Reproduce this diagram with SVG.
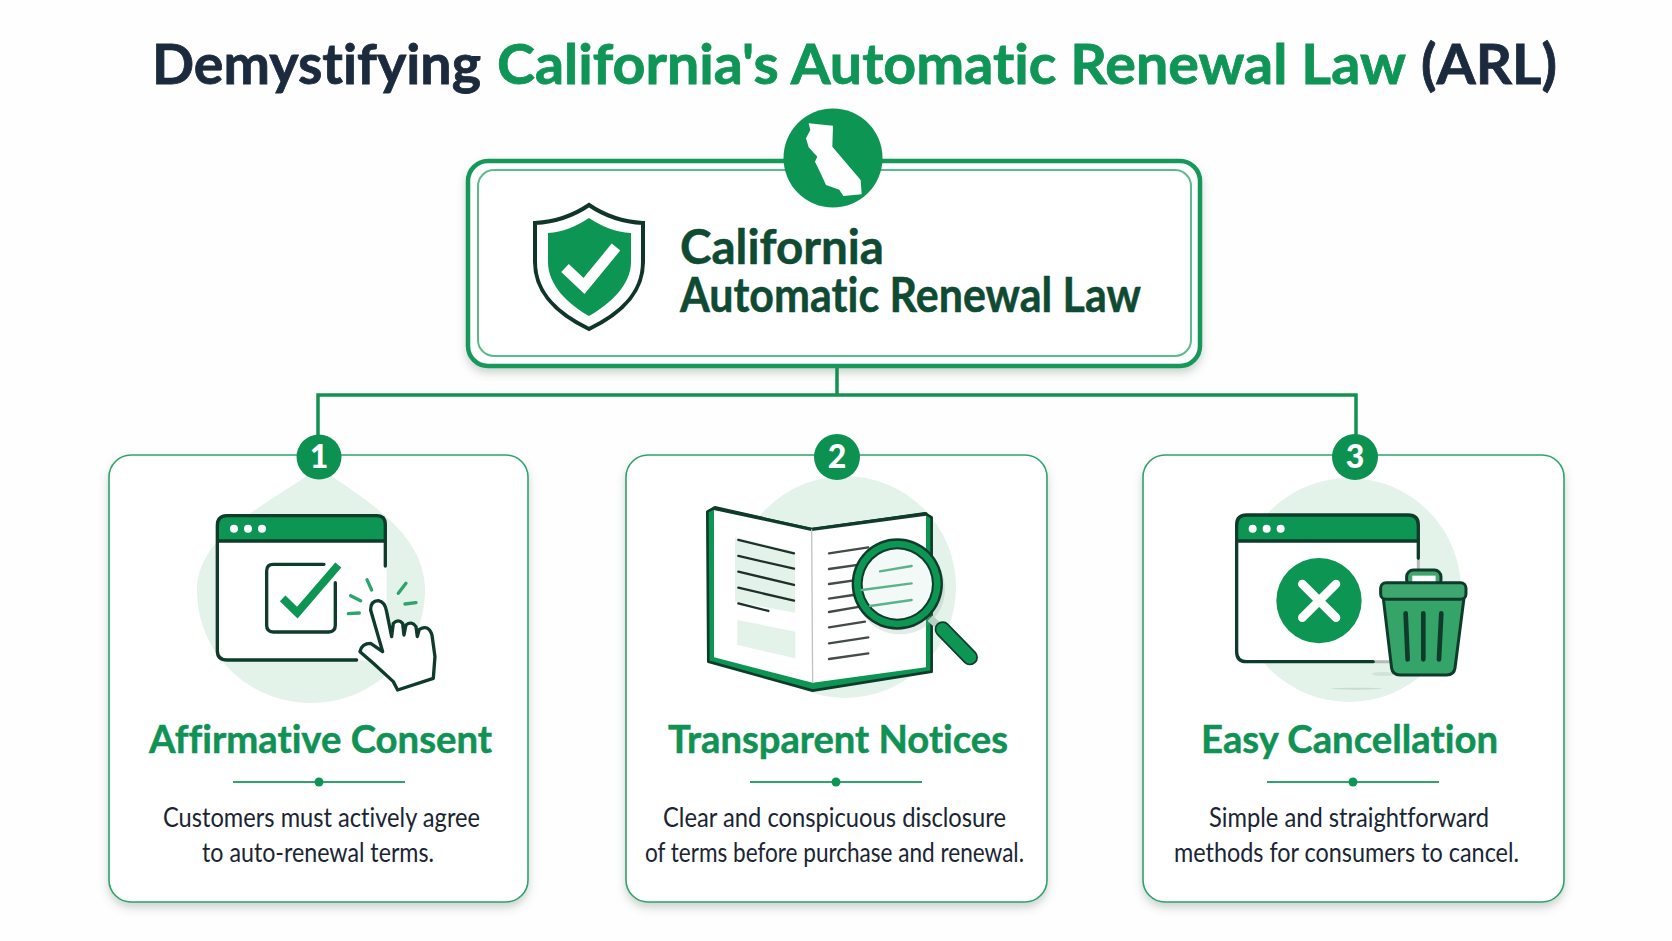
<svg xmlns="http://www.w3.org/2000/svg" width="1672" height="941" viewBox="0 0 1672 941">
<defs>
<style>
text{font-family:Lato,"Open Sans","Liberation Sans",sans-serif;font-variant-ligatures:none}
.title{font-size:56px;font-weight:700;fill:#1b2a3c;stroke:#1b2a3c;stroke-width:.8}
.g{fill:#0f9556;stroke:#0f9556}
.main{font-size:47px;font-weight:700;fill:#0f4a33;stroke:#0f4a33;stroke-width:.5}
.card{fill:#fff;stroke:#2fa36c;stroke-width:1.6;filter:url(#sh)}
.blob{fill:#e3f3ea}
.conn{fill:none;stroke:#13914f;stroke-width:3.5}
.badge{fill:#0d9151}
.num{font-size:32px;font-weight:900;fill:#fff;text-anchor:middle}
.head{font-size:39px;font-weight:700;fill:#0f9254;stroke:#0f9254;stroke-width:.5;text-anchor:middle}
.body{font-size:26px;fill:#1a2533;text-anchor:middle}
.div{stroke:#2fa36c;stroke-width:2}
.dk{fill:none;stroke:#0f3b2b;stroke-width:10;stroke-linecap:round;stroke-linejoin:round}
.gf{fill:#0c9553}
.sp{fill:none;stroke:#2fa36c;stroke-width:10;stroke-linecap:round}
.ln{fill:none;stroke:#1d3029;stroke-width:7;stroke-linecap:round}
.ln2{fill:none;stroke:#444b48;stroke-width:7;stroke-linecap:round}
.ln3{fill:none;stroke:#5cb38a;stroke-width:7;stroke-linecap:round}
</style>
<filter id="sh" x="-5%" y="-5%" width="110%" height="112%"><feDropShadow dx="0" dy="5" stdDeviation="4" flood-color="#4d6b5a" flood-opacity=".28"/></filter>
</defs>
<rect width="1672" height="941" fill="#fefefe"/>
<g id="title">
<text class="title" x="152" y="84" textLength="329" lengthAdjust="spacingAndGlyphs">Demystifying</text>
<text class="title g" x="497" y="84" textLength="909" lengthAdjust="spacingAndGlyphs">California's Automatic Renewal Law</text>
<text class="title" x="1421" y="84" textLength="136" lengthAdjust="spacingAndGlyphs">(ARL)</text>
</g>

<g id="connectors">
<path class="conn" d="M837 366V395M318 457V395H1356V457"/>
</g>

<g id="main-node">
<rect x="468" y="161" width="732" height="205" rx="20" fill="#fff" stroke="#13985a" stroke-width="4.5" filter="url(#sh)"/>
<rect x="478" y="170" width="713" height="186" rx="16" fill="none" stroke="#5cbb8c" stroke-width="2"/>
<circle cx="833" cy="158" r="49.5" class="gf"/>
<path transform="translate(760 100) scale(.3333)" fill="#fff" d="M146 70L219 77L217 140L302 240L305 283L250 288L238 269L198 255L183 222L165 185L172 170L146 142L138 115L151 90Z"/>
<path d="M589 205C570 218 553 222 535 223L535 262C535 295 560 315 589 329C618 315 643 295 643 262L643 223C625 222 608 218 589 205Z" fill="#fff" stroke="#10362a" stroke-width="4"/>
<path class="gf" d="M589 218C575 227 563 232 548 233L548 262C548 285 568 304 589 316C610 304 631 285 631 262L631 233C615 232 603 227 589 218Z"/>
<path d="M565 268L584 286L616 247" fill="none" stroke="#fff" stroke-width="11"/>
<text class="main" x="680" y="264" textLength="204" lengthAdjust="spacingAndGlyphs">California</text>
<text class="main" x="680" y="312" textLength="461" lengthAdjust="spacingAndGlyphs">Automatic Renewal Law</text>
</g>

<g id="card-1">
<rect class="card" x="109" y="455" width="419" height="447" rx="22"/>
<path class="blob" d="M319 466C345 490 425 525 425 590C425 653 374 703 311 703C248 703 197 653 197 590C197 530 280 500 319 466Z"/>
<circle class="badge" cx="319" cy="457" r="22.5"/>
<text class="num" x="319" y="468">1</text>
<g transform="translate(100 430) scale(.3333)">
<rect x="352" y="253" width="508" height="439" rx="30" fill="#fff"/>
<path class="gf" d="M352 333V283Q352 253 382 253H830Q860 253 860 283V333Z"/>
<path class="dk" d="M856 408V283Q856 257 830 257H382Q352 257 352 287V662Q352 690 382 690H770M352 333H856"/>
<g fill="#fff"><circle cx="402" cy="296" r="12"/><circle cx="444" cy="296" r="12"/><circle cx="486" cy="296" r="12"/></g>
<path class="dk" d="M672 403H520Q500 403 500 423V586Q500 606 520 606H686Q706 606 706 586V458"/>
<path d="M548 505L592 548L715 405" fill="none" stroke="#0c9553" stroke-width="24"/>
<path class="sp" d="M752 497L782 512M745 551L778 549M801 449L815 480M895 490L918 460M915 522L948 518"/>
<path class="dk" style="fill:#fff" d="M848 665L812 540Q812 512 835 512Q855 515 860 545L875 620L880 580Q895 565 908 580L912 615L918 585Q935 572 948 590L952 620L958 598Q985 582 996 615L1005 680L1000 745L893 780L880 755L820 700L780 665Q785 640 812 640Z"/>
</g>
<text class="head" x="320.5" y="753" textLength="343" lengthAdjust="spacingAndGlyphs">Affirmative Consent</text>
<path class="div" d="M233 782H405"/><circle class="gf" cx="319" cy="782" r="4.5"/>
<text class="body" x="321.5" y="827" textLength="317" lengthAdjust="spacingAndGlyphs">Customers must actively agree</text>
<text class="body" x="318" y="862" textLength="232" lengthAdjust="spacingAndGlyphs">to auto-renewal terms.</text>
</g>

<g id="card-2">
<rect class="card" x="626" y="455" width="421" height="447" rx="22"/>
<circle class="blob" cx="845" cy="587" r="111"/>
<circle class="badge" cx="837" cy="457" r="23"/>
<text class="num" x="837" y="468">2</text>
<g transform="translate(620 430) scale(.3333)">
<path class="gf" stroke="#0f3b2b" stroke-width="8" stroke-linejoin="round" d="M285 232L575 298L915 250L935 262V725L578 782L265 695L262 245Z"/>
<path fill="#fff" d="M282 235L575 298L918 252V712L578 758L282 682Z"/>
<path class="dk" d="M282 235L575 298L918 252"/>
<path stroke="#bdc4c0" stroke-width="4" d="M575 298L578 758"/>
<path class="blob" d="M345 322L525 365V548L345 515ZM352 570L526 605V685L352 645Z"/>
<path class="ln" d="M355 330L522 370M355 378L522 416M355 425L522 465M355 473L522 512M355 520L445 543"/>
<path class="ln2" d="M627 370L745 352M627 417L745 400M627 462L745 445M627 506L700 495M627 546L720 530M627 592L735 575M627 640L745 622M627 687L745 670"/>
<circle cx="840" cy="478" r="135" fill="#8a9a92" opacity=".22"/>
<path stroke="#b9cfc4" stroke-width="22" d="M930 565L960 592"/>
<path stroke="#0f3b2b" stroke-width="48" stroke-linecap="round" d="M968 598L1050 682"/>
<path stroke="#0c9553" stroke-width="38" stroke-linecap="round" d="M968 598L1050 682"/>
<circle cx="832" cy="462" r="137" fill="#0f3b2b"/>
<circle cx="832" cy="462" r="130" fill="#0c9553"/>
<circle cx="832" cy="462" r="110" fill="#0f3b2b"/>
<circle cx="832" cy="462" r="104" fill="#f3f9f6"/>
<path class="ln3" d="M780 424L875 408M725 480L875 460M750 528L875 510"/>
</g>
<text class="head" x="838" y="753" textLength="340" lengthAdjust="spacingAndGlyphs">Transparent Notices</text>
<path class="div" d="M750 782H922"/><circle class="gf" cx="836" cy="782" r="4.5"/>
<text class="body" x="834.5" y="827" textLength="343" lengthAdjust="spacingAndGlyphs">Clear and conspicuous disclosure</text>
<text class="body" x="834.5" y="862" textLength="379" lengthAdjust="spacingAndGlyphs">of terms before purchase and renewal.</text>
</g>

<g id="card-3">
<rect class="card" x="1143" y="455" width="421" height="447" rx="22"/>
<circle class="blob" cx="1349" cy="590" r="112"/>
<circle class="badge" cx="1355" cy="457" r="23"/>
<text class="num" x="1355" y="468">3</text>
<g transform="translate(1140 430) scale(.3333)">
<path fill="#fff" d="M290 285Q290 255 320 255H805Q835 255 835 285V665Q835 695 805 695H320Q290 695 290 665Z"/>
<path class="gf" d="M290 333V285Q290 255 320 255H805Q835 255 835 285V333Z"/>
<path class="dk" d="M835 385V285Q835 255 805 255H320Q290 255 290 285V665Q290 695 320 695H700M290 333H835"/>
<path stroke="#b5b9b7" stroke-width="9" d="M835 390V420M705 695H750"/>
<g fill="#fff"><circle cx="338" cy="296" r="12"/><circle cx="380" cy="296" r="12"/><circle cx="422" cy="296" r="12"/></g>
<circle class="gf" cx="537" cy="512" r="128"/>
<path stroke="#fff" stroke-width="26" stroke-linecap="round" d="M487 462L588 563M588 462L487 563"/>
<ellipse cx="650" cy="776" rx="75" ry="3" fill="#c9dbd1"/>
<ellipse cx="730" cy="732" rx="35" ry="6" fill="#d0e4d9"/>
<rect x="800" y="420" width="103" height="50" rx="20" fill="#3ea66f" stroke="#0f3b2b" stroke-width="9"/>
<rect x="817" y="437" width="70" height="22" fill="#fff"/>
<path fill="#35a469" stroke="#0f3b2b" stroke-width="9" stroke-linejoin="round" d="M730 505H972L945 715Q942 735 920 735H780Q758 735 755 715Z"/>
<rect x="722" y="458" width="256" height="50" rx="16" fill="#3ea66f" stroke="#0f3b2b" stroke-width="9"/>
<path fill="none" stroke="#0f3b2b" stroke-width="14" stroke-linecap="round" d="M797 550L803 688M850 550V688M904 550L897 688"/>
</g>
<text class="head" x="1349.5" y="753" textLength="297" lengthAdjust="spacingAndGlyphs">Easy Cancellation</text>
<path class="div" d="M1267 782H1439"/><circle class="gf" cx="1353" cy="782" r="4.5"/>
<text class="body" x="1349" y="827" textLength="280" lengthAdjust="spacingAndGlyphs">Simple and straightforward</text>
<text class="body" x="1346.5" y="862" textLength="345" lengthAdjust="spacingAndGlyphs">methods for consumers to cancel.</text>
</g>
</svg>
